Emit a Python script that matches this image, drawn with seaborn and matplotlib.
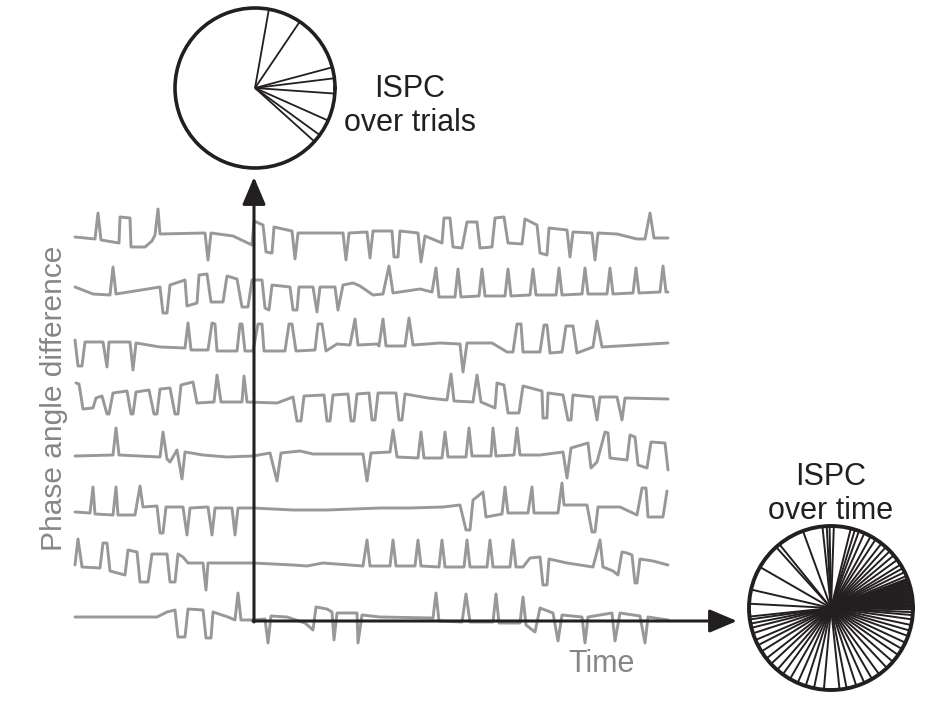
import numpy as np
import pandas as pd
import matplotlib
matplotlib.use("Agg")
import matplotlib.pyplot as plt
import seaborn as sns

# ---- trial traces (x = time sample, y = trace height, image rows) ----
trial_1_x = [75, 95, 98, 101, 119, 120, 130, 131, 145, 152, 155, 158, 160, 205, 208, 211, 233, 252, 254, 263,
             266, 272, 274, 292, 295, 298, 343, 346, 349, 367, 370, 373, 392, 394, 398, 400, 418, 421, 425, 442,
             444, 450, 453, 462, 467, 477, 480, 492, 495, 504, 508, 522, 525, 537, 540, 547, 549, 567, 570, 573,
             592, 595, 598, 617, 637, 645, 650, 654, 668]
trial_1_y = [237, 239, 213, 240, 243, 217, 218, 247, 247, 241, 235, 209, 234, 233, 260, 233, 236, 245, 221, 225,
             252, 253, 227, 231, 259, 233, 233, 260, 233, 232, 258, 231, 231, 257, 257, 231, 233, 262, 236, 243,
             218, 218, 247, 248, 222, 222, 248, 247, 218, 217, 243, 244, 219, 225, 253, 255, 228, 230, 257, 232,
             233, 260, 233, 234, 239, 239, 213, 238, 238]

trial_2_x = [75, 93, 110, 113, 116, 160, 163, 167, 170, 185, 187, 197, 199, 207, 211, 223, 227, 237, 242, 248,
             252, 262, 265, 269, 272, 290, 293, 297, 299, 313, 317, 320, 335, 338, 343, 353, 360, 373, 383, 389,
             393, 420, 432, 436, 439, 455, 458, 461, 479, 482, 485, 505, 508, 511, 530, 533, 536, 556, 559, 562,
             582, 585, 588, 607, 610, 613, 633, 636, 639, 660, 663, 666, 668]
trial_2_y = [287, 294, 295, 267, 294, 287, 313, 313, 285, 280, 306, 303, 275, 274, 302, 302, 276, 279, 307, 307,
             280, 280, 308, 310, 285, 287, 310, 310, 287, 287, 312, 287, 287, 310, 285, 283, 286, 295, 294, 266,
             293, 289, 292, 268, 297, 297, 269, 297, 296, 269, 296, 296, 269, 296, 295, 269, 295, 295, 268, 295,
             294, 268, 294, 294, 268, 294, 293, 268, 293, 292, 266, 292, 292]

trial_3_x = [75, 78, 82, 85, 103, 107, 109, 130, 133, 136, 160, 185, 188, 191, 208, 212, 215, 217, 237, 240,
             242, 245, 253, 258, 262, 264, 285, 289, 292, 296, 315, 318, 322, 326, 337, 350, 355, 358, 377, 379,
             383, 386, 405, 409, 413, 440, 460, 463, 467, 492, 507, 513, 517, 521, 523, 540, 544, 547, 550, 562,
             566, 573, 577, 593, 597, 602, 668]
trial_3_y = [340, 366, 366, 342, 342, 367, 342, 342, 370, 343, 347, 348, 323, 350, 350, 323, 324, 351, 351, 324,
             324, 351, 351, 324, 324, 351, 351, 324, 324, 351, 350, 324, 324, 351, 344, 345, 319, 345, 344, 346,
             319, 346, 346, 318, 345, 343, 344, 372, 343, 343, 352, 352, 324, 324, 352, 352, 325, 325, 353, 352,
             326, 326, 353, 347, 321, 347, 343]

trial_4_x = [76, 79, 83, 93, 96, 102, 107, 109, 113, 127, 131, 133, 136, 149, 154, 157, 160, 170, 175, 178,
             181, 193, 197, 214, 217, 221, 242, 244, 247, 277, 293, 297, 301, 304, 324, 327, 330, 333, 348, 351,
             354, 357, 369, 372, 375, 378, 396, 399, 402, 405, 428, 447, 451, 454, 473, 477, 481, 495, 497, 504,
             508, 519, 523, 542, 543, 547, 548, 563, 568, 571, 573, 593, 597, 600, 617, 622, 625, 668]
trial_4_y = [383, 384, 409, 408, 398, 396, 414, 414, 393, 391, 414, 414, 392, 390, 414, 414, 389, 388, 414, 414,
             385, 382, 403, 402, 375, 402, 402, 376, 402, 403, 397, 421, 421, 396, 395, 421, 421, 395, 394, 421,
             421, 394, 393, 420, 420, 393, 393, 420, 420, 394, 398, 400, 374, 401, 402, 375, 402, 408, 383, 385,
             413, 413, 386, 391, 418, 418, 393, 395, 420, 420, 395, 397, 420, 397, 397, 420, 398, 399]

trial_5_x = [75, 113, 116, 119, 160, 163, 167, 170, 177, 182, 185, 203, 227, 253, 270, 277, 281, 300, 313, 363,
             367, 371, 390, 393, 397, 418, 421, 424, 442, 445, 448, 466, 469, 472, 491, 493, 496, 514, 517, 520,
             540, 563, 567, 571, 588, 591, 597, 605, 608, 610, 627, 630, 635, 638, 647, 651, 665, 668]
trial_5_y = [456, 455, 428, 455, 457, 432, 459, 462, 450, 479, 452, 455, 457, 456, 453, 481, 453, 451, 454, 454,
             481, 453, 452, 430, 457, 458, 432, 458, 458, 432, 457, 457, 428, 456, 456, 428, 456, 455, 428, 455,
             455, 452, 478, 448, 443, 468, 462, 432, 433, 458, 460, 435, 437, 465, 468, 442, 443, 470]

trial_6_x = [75, 90, 93, 95, 113, 116, 118, 135, 140, 143, 157, 160, 163, 166, 183, 187, 190, 208, 212, 215,
             232, 235, 238, 253, 293, 327, 380, 410, 443, 460, 466, 470, 473, 483, 486, 502, 505, 508, 528, 532,
             534, 558, 562, 564, 587, 592, 595, 598, 620, 637, 642, 646, 648, 663, 667]
trial_6_y = [512, 513, 487, 514, 515, 487, 515, 515, 486, 507, 506, 533, 533, 507, 507, 535, 508, 507, 535, 508,
             508, 535, 508, 508, 510, 510, 508, 508, 507, 505, 530, 530, 500, 492, 517, 514, 487, 513, 513, 487,
             513, 513, 483, 505, 505, 532, 532, 507, 507, 515, 488, 488, 517, 517, 491]

trial_7_x = [75, 78, 82, 100, 103, 107, 110, 125, 128, 137, 140, 148, 152, 167, 170, 175, 178, 183, 188, 203,
             206, 208, 253, 293, 307, 323, 363, 367, 370, 390, 393, 396, 415, 418, 421, 439, 442, 445, 464, 467,
             470, 487, 490, 493, 510, 513, 516, 523, 530, 540, 543, 547, 549, 567, 593, 600, 603, 613, 618, 622,
             627, 632, 635, 637, 640, 653, 668]
trial_7_y = [565, 539, 567, 568, 543, 543, 571, 575, 550, 552, 582, 582, 554, 554, 582, 582, 554, 557, 563, 563,
             590, 563, 563, 565, 566, 563, 566, 540, 566, 566, 540, 566, 566, 540, 566, 567, 540, 567, 567, 540,
             567, 567, 540, 567, 567, 540, 567, 567, 558, 557, 585, 585, 559, 563, 567, 540, 567, 571, 575, 552,
             553, 555, 583, 583, 559, 561, 565]

trial_8_x = [75, 157, 167, 175, 178, 185, 188, 203, 206, 211, 213, 228, 235, 238, 241, 253, 265, 268, 271, 287,
             305, 313, 316, 327, 332, 334, 337, 357, 358, 362, 380, 433, 436, 439, 462, 466, 470, 493, 496, 499,
             520, 523, 526, 535, 540, 553, 558, 562, 582, 585, 588, 612, 615, 620, 640, 645, 648, 668]
trial_8_y = [617, 617, 612, 610, 637, 637, 609, 610, 638, 638, 612, 617, 620, 593, 620, 620, 619, 643, 616, 617,
             623, 630, 607, 609, 612, 640, 613, 613, 643, 615, 617, 618, 593, 621, 622, 594, 622, 622, 594, 623,
             623, 597, 625, 632, 608, 613, 641, 615, 617, 643, 617, 613, 641, 613, 616, 643, 617, 620]

# phase angle (deg) of each trial at the marked time point
ispc_trials_deg = [80, 56, 15, 7, -4, -24, -36, -42]

# phase angles (deg) of one trial across all time points
ispc_time_deg = [23, 26, 29, 32, 36, 40, 44, 48, 52, 57, 61, 66, 70, 73, 76,
                 88, 91, 93, 96,
                 110, 129, 132, 150, 167, 177,
                 186, 188, 191, 194, 198, 203, 207, 212, 218, 223, 229, 234, 240, 246, 252, 258, 265,
                 276, 281,
                 288, 294, 300, 306, 313, 319, 325, 330, 335, 340, 344, 348, 352, 355,
                 357, 359, 0, 1, 2, 3, 4, 5, 6, 7, 8, 9, 10, 11, 12, 13, 14, 15, 16, 17, 18, 19, 20, 21]

W, H = 931, 706
INK = "#231f20"
TRACE = "#98989a"
GREY_TEXT = "#86868a"


def traces_frame():
    xs = [trial_1_x, trial_2_x, trial_3_x, trial_4_x, trial_5_x, trial_6_x, trial_7_x, trial_8_x]
    ys = [trial_1_y, trial_2_y, trial_3_y, trial_4_y, trial_5_y, trial_6_y, trial_7_y, trial_8_y]
    parts = []
    for i, (x, y) in enumerate(zip(xs, ys)):
        parts.append(pd.DataFrame({"time": x, "phase": y, "trial": i + 1}))
    return pd.concat(parts, ignore_index=True)


def draw_circle(fig, center, radius, angles_deg, lw, edge_lw):
    """Polar inset: one spoke per phase angle."""
    cx, cy = center
    pax = fig.add_axes([(cx - radius) / W, 1 - (cy + radius) / H, 2 * radius / W, 2 * radius / H],
                       projection="polar")
    for a in np.deg2rad(angles_deg):
        pax.plot([a, a], [0, 1], color=INK, lw=lw, solid_capstyle="butt")
    pax.set_ylim(0, 1)
    pax.grid(False)
    pax.set_xticks([])
    pax.set_yticks([])
    pax.spines["polar"].set_linewidth(edge_lw)
    pax.spines["polar"].set_color(INK)
    pax.patch.set_alpha(0)
    return pax


sns.set_theme(style="white")
plt.rcParams["font.family"] = ["Liberation Sans", "DejaVu Sans"]

fig = plt.figure(figsize=(W / 100, H / 100), dpi=100)
ax = fig.add_axes([0, 0, 1, 1])

df = traces_frame()
sns.lineplot(data=df, x="time", y="phase", units="trial", estimator=None, sort=False,
             color=TRACE, lw=2.1, ax=ax, legend=False)

ax.set_xlim(0, W)
ax.set_ylim(H, 0)
ax.axis("off")

# axes arrows
arrow = dict(arrowstyle="-|>,head_length=1.3,head_width=0.55", color=INK, lw=2.2,
             shrinkA=0, shrinkB=0, mutation_scale=13)
ax.annotate("", xy=(254, 177), xytext=(254, 622), arrowprops=arrow, zorder=5)
ax.annotate("", xy=(737, 621), xytext=(253, 621), arrowprops=arrow, zorder=5)

# labels
ax.text(410, 106, "ISPC\nover trials", ha="center", va="center", fontsize=22,
        color=INK, linespacing=1.15)
ax.text(831, 494, "ISPC\nover time", ha="center", va="center", fontsize=22,
        color=INK, linespacing=1.15)
ax.text(602, 664, "Time", ha="center", va="center", fontsize=22, color=GREY_TEXT)
ax.text(54, 398, "Phase angle difference", ha="center", va="center", rotation=90,
        fontsize=21.5, color=GREY_TEXT)

draw_circle(fig, (255, 88), 80, ispc_trials_deg, lw=1.3, edge_lw=2.6)
draw_circle(fig, (831, 608), 82, ispc_time_deg, lw=1.4, edge_lw=2.8)

fig.savefig("out.png", dpi=100)
